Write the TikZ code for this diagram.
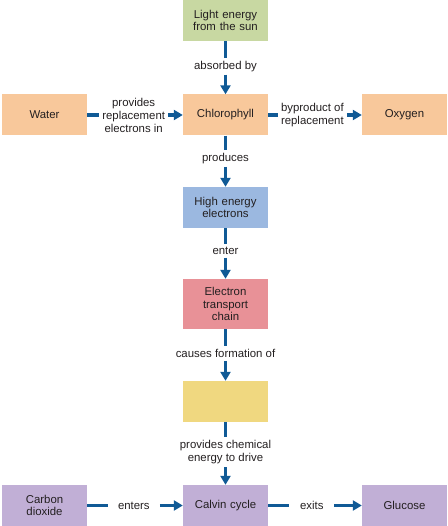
\documentclass[tikz,border=0pt]{standalone}
\usepackage{fontspec}
\setmainfont{Liberation Sans}
\usetikzlibrary{arrows.meta}
\usetikzlibrary{shapes}
\definecolor{sungreen}{RGB}{200,216,162}
\definecolor{peach}{RGB}{248,200,155}
\definecolor{skyblue}{RGB}{155,184,224}
\definecolor{rosered}{RGB}{232,145,151}
\definecolor{butter}{RGB}{240,216,128}
\definecolor{lilac}{RGB}{193,175,214}
\definecolor{flowblue}{RGB}{16,90,150}
\definecolor{inkgray}{RGB}{35,31,32}
\tikzstyle{box} = [rectangle, minimum width=85pt, minimum height=41pt, inner sep=0pt, text centered, text width=82pt, text=inkgray, font=\fontsize{11.4}{12.8}\selectfont]
\tikzstyle{sun} = [box, fill=sungreen]
\tikzstyle{pigment} = [box, fill=peach]
\tikzstyle{electrons} = [box, fill=skyblue]
\tikzstyle{chain} = [box, fill=rosered, minimum height=50pt]
\tikzstyle{product} = [box, fill=butter]
\tikzstyle{cycle} = [box, fill=lilac]
\tikzstyle{linktext} = [inner sep=3pt, align=center, text=inkgray, font=\fontsize{11.4}{13}\selectfont]
\tikzstyle{link} = [line width=3.2pt, draw=flowblue]
\tikzstyle{arrow} = [link, -{Triangle[width=10pt,length=9pt]}]

\begin{document}
\begin{tikzpicture}[node distance=95pt]
\useasboundingbox (0pt,0pt) rectangle (447pt,-526pt);

\node [sun] (light) at (225.5pt,-20.5pt) {Light energy \\ from the sun};
\node [pigment, below of = light, yshift=0.5pt] (chloro) {Chlorophyll};
\node [pigment, left of = chloro, xshift=-86pt] (water) {Water};
\node [pigment, right of = chloro, xshift=84pt] (oxygen) {Oxygen};
\node [electrons, below of = chloro, yshift=2.5pt] (high) {High energy \\ electrons};
\node [chain, below of = high, yshift=-1.5pt] (etc) {Electron \\ transport \\ chain};
\node [product, below of = etc, yshift=-2.5pt] (atp) {};
\node [cycle, below of = atp, yshift=-9pt] (calvin) {Calvin cycle};
\node [cycle, left of = calvin, xshift=-86pt] (co2) {Carbon \\ dioxide};
\node [cycle, right of = calvin, xshift=84pt] (glucose) {Glucose};

\path (light) -- node [linktext, pos=0.47] (absorbed) {absorbed by} (chloro);
\path (water) -- node [linktext, pos=0.486] (replaces) {provides \\ replacement \\ electrons in} (chloro);
\path (chloro) -- node [linktext, pos=0.472] (byproduct) {byproduct of \\ replacement} (oxygen);
\path (chloro) -- node [linktext, pos=0.443] (produces) {produces} (high);
\path (high) -- node [linktext, pos=0.446] (enter) {enter} (etc);
\path (etc) -- node [linktext, pos=0.47] (causes) {causes formation of} (atp);
\path (atp) -- node [linktext, pos=0.476] (drives) {provides chemical \\ energy to drive} (calvin);
\path (co2) -- node [linktext, inner xsep=10pt, pos=0.488] (enters) {enters} (calvin);
\path (calvin) -- node [linktext, inner xsep=10.5pt, pos=0.466] (exits) {exits} (glucose);

\draw [link] (light) -- (absorbed);
\draw [arrow] (absorbed) -- (chloro);
\draw [link] (water) -- (replaces);
\draw [arrow] (replaces) -- (chloro);
\draw [link] (chloro) -- (byproduct);
\draw [arrow] (byproduct) -- (oxygen);
\draw [link] (chloro) -- (produces);
\draw [arrow] (produces) -- (high);
\draw [link] (high) -- (enter);
\draw [arrow] (enter) -- (etc);
\draw [link] (etc) -- (causes);
\draw [arrow] (causes) -- (atp);
\draw [link] (atp) -- (drives);
\draw [arrow] (drives) -- (calvin);
\draw [link] (co2) -- (enters);
\draw [arrow] (enters) -- (calvin);
\draw [link] (calvin) -- (exits);
\draw [arrow] (exits) -- (glucose);

\end{tikzpicture}
\end{document}
